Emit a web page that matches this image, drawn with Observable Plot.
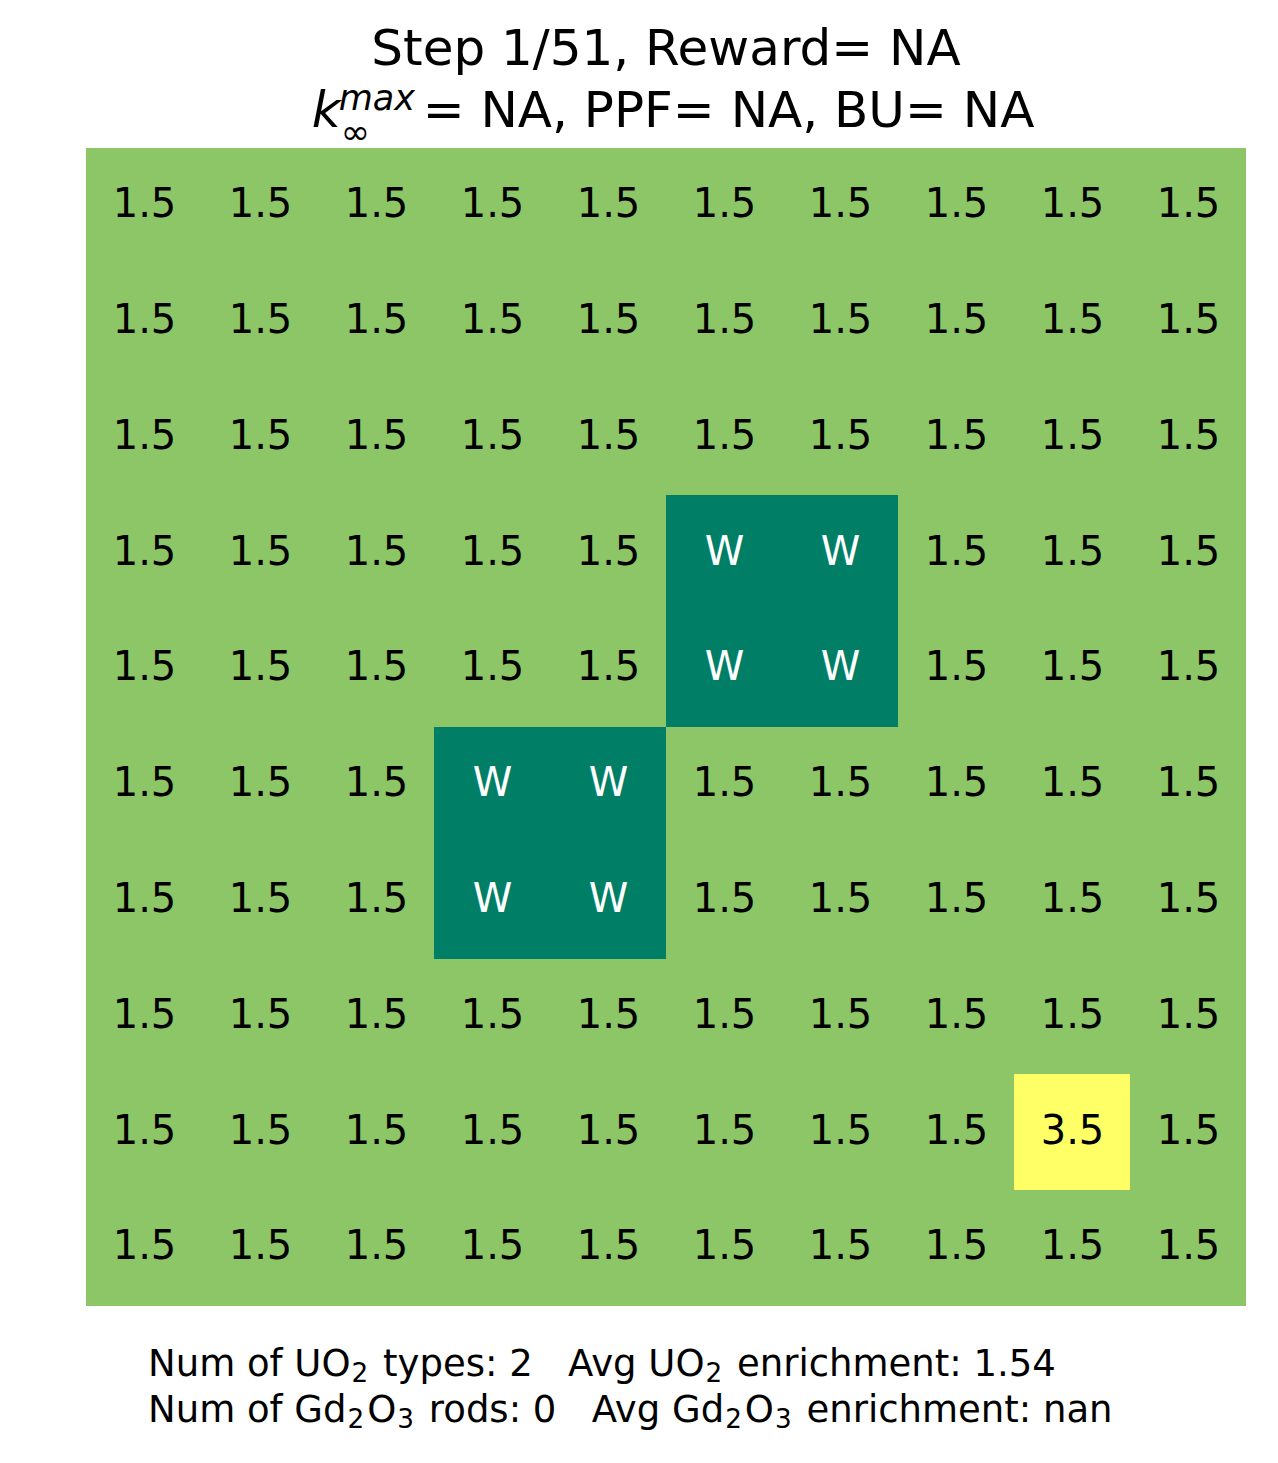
<!DOCTYPE html>
<html>
<head>
<meta charset="utf-8">
<script src="https://cdn.jsdelivr.net/npm/d3@7"></script>
<script src="https://cdn.jsdelivr.net/npm/@observablehq/plot@0.6"></script>
<style>
  html, body { margin: 0; padding: 0; background: #fff; }
  body { width: 1278px; height: 1463px; position: relative; font-family: "DejaVu Sans", sans-serif; color: #000; }
  #title { position: absolute; left: 86px; width: 1160px; top: 0; text-align: center; font-size: 50px; }
  #title .l1 { position: absolute; left: 0; right: 0; top: 18px; line-height: 60px; }
  #title .l2 { position: absolute; left: 7px; right: -7px; top: 77px; line-height: 60px; }
  .k { font-style: italic; }
  .ss { display: inline-block; position: relative; width: 82px; height: 50px; }
  .ss .sup { position: absolute; left: -2px; top: 4px; font-size: 35px; font-style: italic; line-height: 1; }
  .ss .sub { position: absolute; left: 0px; top: 38px; font-size: 35px; line-height: 1; }
  #chart { position: absolute; left: 0; top: 148px; }
  #chart svg { display: block; }
  #footer { position: absolute; left: 148px; top: 1341px; font-size: 37px; line-height: 46px; white-space: pre; }
  #footer sub { font-size: 0.71em; vertical-align: -6px; line-height: 0; margin-left: 1px; margin-right: 3px; }
</style>
</head>
<body>
<div id="title">
  <div class="l1">Step 1/51, Reward= NA</div>
  <div class="l2"><span class="k">k</span><span class="ss"><span class="sup">max</span><span class="sub">∞</span></span>= NA, PPF= NA, BU= NA</div>
</div>
<div id="chart"></div>
<div id="footer">Num of UO<sub>2</sub> types: 2   Avg UO<sub>2</sub> enrichment: 1.54
Num of Gd<sub>2</sub>O<sub>3</sub> rods: 0   Avg Gd<sub>2</sub>O<sub>3</sub> enrichment: nan</div>
<script>
const grid = [
  ["1.5","1.5","1.5","1.5","1.5","1.5","1.5","1.5","1.5","1.5"],
  ["1.5","1.5","1.5","1.5","1.5","1.5","1.5","1.5","1.5","1.5"],
  ["1.5","1.5","1.5","1.5","1.5","1.5","1.5","1.5","1.5","1.5"],
  ["1.5","1.5","1.5","1.5","1.5","W","W","1.5","1.5","1.5"],
  ["1.5","1.5","1.5","1.5","1.5","W","W","1.5","1.5","1.5"],
  ["1.5","1.5","1.5","W","W","1.5","1.5","1.5","1.5","1.5"],
  ["1.5","1.5","1.5","W","W","1.5","1.5","1.5","1.5","1.5"],
  ["1.5","1.5","1.5","1.5","1.5","1.5","1.5","1.5","1.5","1.5"],
  ["1.5","1.5","1.5","1.5","1.5","1.5","1.5","1.5","3.5","1.5"],
  ["1.5","1.5","1.5","1.5","1.5","1.5","1.5","1.5","1.5","1.5"]
];
const categories = ["W", "1.5", "3.5"];
const categoryColors = ["#007f66", "#8dc666", "#ffff66"];
const textColors = {"W": "#ffffff", "1.5": "#000000", "3.5": "#000000"};

const cells = grid.flatMap((row, r) => row.map((v, c) => ({row: r, col: c, v})));
const rowIdx = grid.map((_, i) => i);
const colIdx = grid[0].map((_, i) => i);

const plot = Plot.plot({
  width: 1278,
  height: 1158,
  marginLeft: 86,
  marginRight: 32,
  marginTop: 0,
  marginBottom: 0,
  x: {type: "band", domain: colIdx, padding: 0, round: false, axis: null},
  y: {type: "band", domain: rowIdx, padding: 0, round: false, axis: null},
  color: {domain: categories, range: categoryColors},
  style: {fontFamily: "DejaVu Sans, sans-serif", background: "transparent"},
  marks: [
    Plot.cell(cells, {x: "col", y: "row", fill: "v", inset: 0, shapeRendering: "crispEdges"}),
    Plot.text(cells, {x: "col", y: "row", text: "v", fill: d => textColors[d.v], fontSize: 40, dy: -2})
  ]
});
document.getElementById("chart").appendChild(plot);
</script>
</body>
</html>
